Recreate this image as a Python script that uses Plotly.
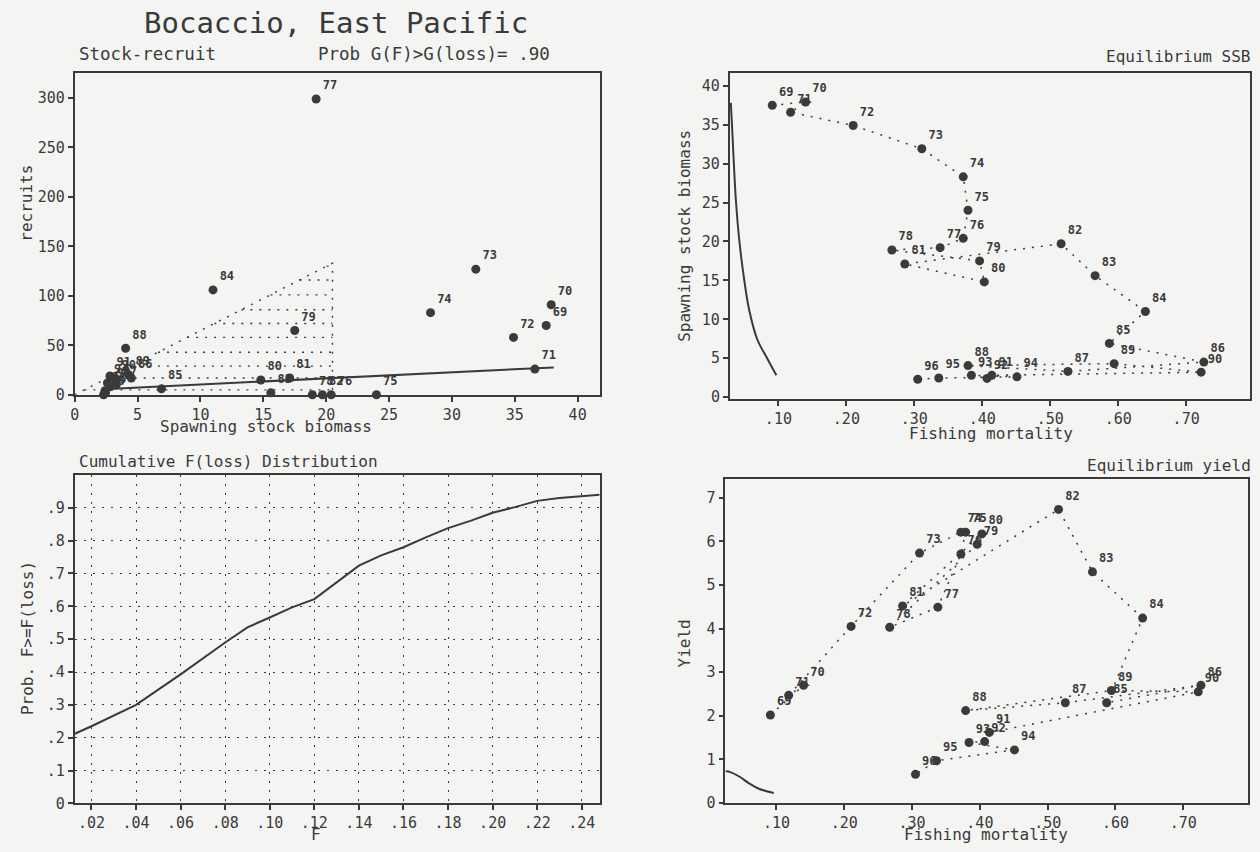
import plotly.graph_objects as go

# ---------------- data ----------------
years = [69, 70, 71, 72, 73, 74, 75, 76, 77, 78, 79, 80, 81, 82,
         83, 84, 85, 86, 87, 88, 89, 90, 91, 92, 93, 94, 95, 96]
fishing_mort = [0.091, 0.140, 0.118, 0.210, 0.311, 0.372, 0.379, 0.372, 0.338, 0.267,
                0.396, 0.403, 0.286, 0.516, 0.566, 0.640, 0.587, 0.726, 0.526, 0.379,
                0.594, 0.722, 0.414, 0.407, 0.384, 0.451, 0.336, 0.305]
ssb = [37.5, 37.9, 36.6, 34.9, 31.9, 28.3, 24.0, 20.4, 19.2, 18.9,
       17.5, 14.8, 17.1, 19.7, 15.6, 11.0, 6.9, 4.5, 3.3, 4.05,
       4.3, 3.2, 2.8, 2.4, 2.8, 2.6, 2.45, 2.3]
recruits = [70, 91, 26, 58, 127, 83, 0, 0, 299, 0,
            65, 15, 17, 0, 2, 106, 6, 17, 10, 47,
            20, 16, 19, 4, 8, 12, 2, 0]
yields = [2.02, 2.70, 2.47, 4.05, 5.73, 6.21, 6.21, 5.71, 4.49, 4.03,
          5.93, 6.17, 4.52, 6.73, 5.30, 4.24, 2.30, 2.70, 2.30, 2.12,
          2.58, 2.55, 1.62, 1.41, 1.39, 1.22, 0.97, 0.66]
year_labels = [str(y) for y in years]

# stock-recruit fitted line
sr_line_ssb = [2.3, 38.1]
sr_line_rec = [5.7, 27.7]
# dotted wedge region
wedge_ssb_max = 20.5
wedge_rec_max = 133
wedge_rows = [5, 17, 29, 43, 58, 72, 86, 101, 116, 130]

# equilibrium curves
eq_ssb_F = [0.030, 0.032, 0.0375, 0.0425, 0.0498, 0.057, 0.069, 0.084, 0.097]
eq_ssb_val = [37.8, 34.4, 25.2, 20.1, 15.0, 11.2, 7.4, 4.9, 2.8]
eq_yield_F = [0.025, 0.032, 0.045, 0.059, 0.074, 0.096]
eq_yield_val = [0.73, 0.71, 0.61, 0.46, 0.33, 0.23]

# cumulative F(loss) distribution
cum_F = [0.0125, 0.02, 0.04, 0.06, 0.08, 0.09, 0.10, 0.11, 0.12, 0.13, 0.14, 0.15,
         0.16, 0.17, 0.18, 0.19, 0.20, 0.21, 0.22, 0.23, 0.24, 0.248]
cum_P = [0.212, 0.235, 0.30, 0.393, 0.49, 0.536, 0.566, 0.597, 0.622, 0.673, 0.724, 0.755,
         0.78, 0.81, 0.838, 0.86, 0.885, 0.902, 0.921, 0.93, 0.936, 0.94]

F_ticks = [0.1, 0.2, 0.3, 0.4, 0.5, 0.6, 0.7]
F_ticktext = [".10", ".20", ".30", ".40", ".50", ".60", ".70"]
cumF_ticks = [0.02, 0.04, 0.06, 0.08, 0.10, 0.12, 0.14, 0.16, 0.18, 0.20, 0.22, 0.24]
cumF_ticktext = [".02", ".04", ".06", ".08", ".10", ".12", ".14", ".16", ".18", ".20", ".22", ".24"]
prob_ticks = [0, 0.1, 0.2, 0.3, 0.4, 0.5, 0.6, 0.7, 0.8, 0.9]
prob_ticktext = ["0", ".1", ".2", ".3", ".4", ".5", ".6", ".7", ".8", ".9"]

# ---------------- style ----------------
W, H = 1260, 852
FONT = "DejaVu Sans Mono"
INK = "#3a3a3a"
BG = "#f4f4f3"
DOT = "2px,7px"


def dom_x(a, b):
    return [a / W, b / W]


def dom_y(top, bottom):
    return [1 - bottom / H, 1 - top / H]


fig = go.Figure()

marker = dict(size=9, color=INK)
label_font = dict(family=FONT, size=12, color=INK, weight="bold")

# ---- top-left: stock-recruit ----
wx, wy = [0, wedge_ssb_max, wedge_ssb_max], [0, wedge_rec_max, 0]
for r in wedge_rows:
    wx += [None, r * wedge_ssb_max / wedge_rec_max, wedge_ssb_max]
    wy += [None, r, r]
fig.add_trace(go.Scatter(x=wx, y=wy, mode="lines", xaxis="x", yaxis="y",
                         line=dict(color=INK, width=1.4, dash=DOT), hoverinfo="skip"))
fig.add_trace(go.Scatter(x=sr_line_ssb, y=sr_line_rec, mode="lines", xaxis="x", yaxis="y",
                         line=dict(color=INK, width=2)))
fig.add_trace(go.Scatter(x=ssb, y=recruits, mode="markers+text", xaxis="x", yaxis="y",
                         marker=marker, text=year_labels, textposition="top right",
                         textfont=label_font, cliponaxis=False))

# ---- top-right: equilibrium SSB ----
fig.add_trace(go.Scatter(x=fishing_mort, y=ssb, mode="lines", xaxis="x2", yaxis="y2",
                         line=dict(color=INK, width=1.5, dash=DOT)))
fig.add_trace(go.Scatter(x=eq_ssb_F, y=eq_ssb_val, mode="lines", xaxis="x2", yaxis="y2",
                         line=dict(color=INK, width=2, shape="spline")))
fig.add_trace(go.Scatter(x=fishing_mort, y=ssb, mode="markers+text", xaxis="x2", yaxis="y2",
                         marker=marker, text=year_labels, textposition="top right",
                         textfont=label_font, cliponaxis=False))

# ---- bottom-left: cumulative distribution ----
fig.add_trace(go.Scatter(x=cum_F, y=cum_P, mode="lines", xaxis="x3", yaxis="y3",
                         line=dict(color=INK, width=2)))

# ---- bottom-right: equilibrium yield ----
fig.add_trace(go.Scatter(x=fishing_mort, y=yields, mode="lines", xaxis="x4", yaxis="y4",
                         line=dict(color=INK, width=1.5, dash=DOT)))
fig.add_trace(go.Scatter(x=eq_yield_F, y=eq_yield_val, mode="lines", xaxis="x4", yaxis="y4",
                         line=dict(color=INK, width=2, shape="spline")))
fig.add_trace(go.Scatter(x=fishing_mort, y=yields, mode="markers+text", xaxis="x4", yaxis="y4",
                         marker=marker, text=year_labels, textposition="top right",
                         textfont=label_font, cliponaxis=False))

axis_common = dict(showline=True, mirror=True, linecolor=INK, linewidth=1.8,
                   ticks="outside", ticklen=5, tickwidth=1.5, tickcolor=INK,
                   showgrid=False, zeroline=False,
                   tickfont=dict(family=FONT, size=15, color=INK))

fig.update_layout(
    width=W, height=H, margin=dict(l=0, r=0, t=0, b=0),
    paper_bgcolor=BG, plot_bgcolor=BG, showlegend=False,
    xaxis=dict(axis_common, domain=dom_x(70, 597), range=[0, 41.75], anchor="y",
               tickvals=[0, 5, 10, 15, 20, 25, 30, 35, 40]),
    yaxis=dict(axis_common, domain=dom_y(74, 399), range=[0, 325], anchor="x",
               tickvals=[0, 50, 100, 150, 200, 250, 300]),
    xaxis2=dict(axis_common, domain=dom_x(727.7, 1250), range=[0.0285, 0.794], anchor="y2",
                tickvals=F_ticks, ticktext=F_ticktext),
    yaxis2=dict(axis_common, domain=dom_y(73.3, 403.3), range=[-0.25, 41.7], anchor="x2",
                tickvals=[0, 5, 10, 15, 20, 25, 30, 35, 40]),
    xaxis3=dict(axis_common, domain=dom_x(70, 597), range=[0.0125, 0.248], anchor="y3",
                tickvals=cumF_ticks, ticktext=cumF_ticktext,
                showgrid=True, gridcolor=INK, gridwidth=1.3, griddash=DOT),
    yaxis3=dict(axis_common, domain=dom_y(480, 812), range=[0, 1.0], anchor="x3",
                tickvals=prob_ticks, ticktext=prob_ticktext,
                showgrid=True, gridcolor=INK, gridwidth=1.3, griddash=DOT),
    xaxis4=dict(axis_common, domain=dom_x(723.3, 1248), range=[0.0247, 0.7955], anchor="y4",
                tickvals=F_ticks, ticktext=F_ticktext),
    yaxis4=dict(axis_common, domain=dom_y(484, 811.7), range=[0, 7.43], anchor="x4",
                tickvals=[0, 1, 2, 3, 4, 5, 6, 7]),
)


def note(text, x, y, size=16, xanchor="center", angle=0):
    fig.add_annotation(text=text, x=x / W, y=1 - y / H, xref="paper", yref="paper",
                       showarrow=False, xanchor=xanchor, yanchor="middle", textangle=angle,
                       font=dict(family=FONT, size=size, color=INK))


note("Bocaccio, East Pacific", 138, 23, size=29, xanchor="left")
note("Stock-recruit", 72, 55, size=17.5, xanchor="left")
note("Prob G(F)>G(loss)= .90", 312, 55, size=17.5, xanchor="left")
note("recruits", 22, 205, angle=-90)
note("Spawning stock biomass", 262, 431)
note("Equilibrium SSB", 1253, 57, xanchor="right")
note("Spawning stock biomass", 682, 238, angle=-90)
note("Fishing mortality", 990, 438)
note("Cumulative F(loss) Distribution", 72, 466, xanchor="left")
note("Prob. F>=F(loss)", 22, 645, angle=-90)
note("F", 312, 843)
note("Equilibrium yield", 1253, 470, xanchor="right")
note("Yield", 682, 650, angle=-90)
note("Fishing mortality", 985, 843)

body_fix = ("document.body.style.margin='0';document.body.style.padding='0';"
            "document.body.style.background='" + BG + "';"
            "document.documentElement.style.overflow='hidden';")
fig.write_html("out.html", post_script=body_fix, config={"displayModeBar": False})
